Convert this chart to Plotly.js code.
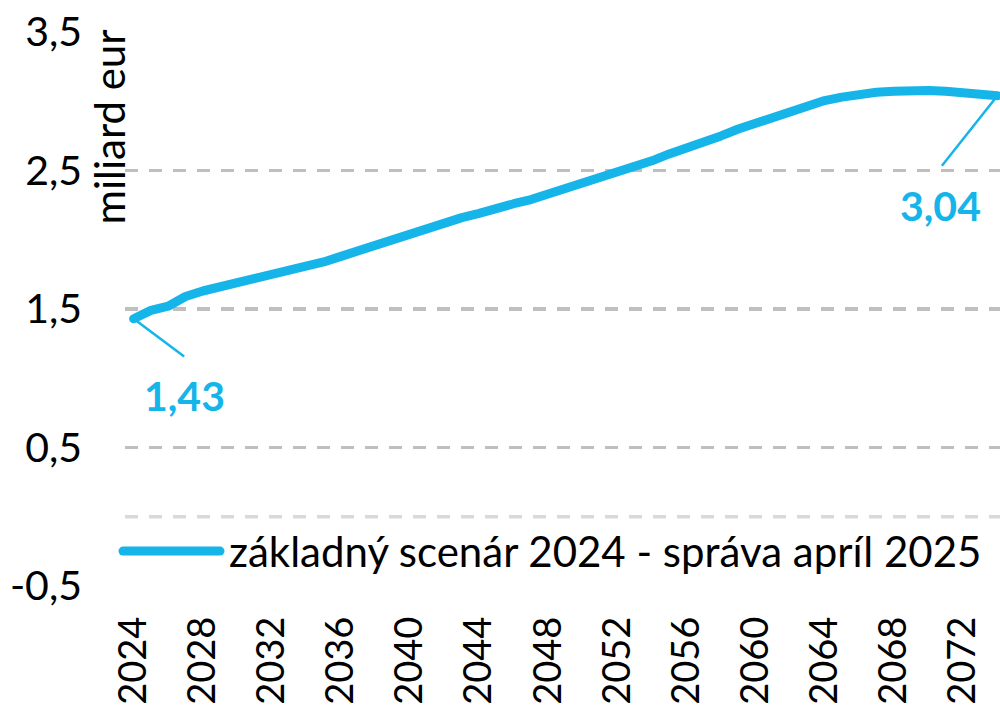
<!DOCTYPE html>
<html>
<head>
<meta charset="utf-8">
<script src="https://cdn.plot.ly/plotly-3.0.1.min.js"></script>
<style>
  html, body { margin: 0; padding: 0; background: #fff; }
  #chart { width: 1000px; height: 710px; }
</style>
</head>
<body>
<div id="chart"></div>
<script>
// ---- data ----
const years = [2024,2025,2026,2027,2028,2029,2030,2031,2032,2033,2034,2035,2036,2037,2038,2039,
  2040,2041,2042,2043,2044,2045,2046,2047,2048,2049,2050,2051,2052,2053,2054,2055,2056,2057,2058,2059,
  2060,2061,2062,2063,2064,2065,2066,2067,2068,2069,2070,2071,2072,2073,2074];
const values = [1.43,1.49,1.52,1.59,1.63,1.66,1.69,1.71,1.74,1.77,1.81,1.84,1.88,1.92,1.96,2.00,
  2.05,2.09,2.12,2.16,2.19,2.23,2.26,2.29,2.33,2.37,2.41,2.44,2.48,2.52,2.57,2.62,2.66,2.71,2.75,2.80,
  2.84,2.88,2.93,2.97,3.005,3.03,3.05,3.065,3.072,3.078,3.078,3.072,3.064,3.052,3.04];
const seriesName = 'základný scenár 2024 - správa apríl 2025';
const xTickVals = [2024,2028,2032,2036,2040,2044,2048,2052,2056,2060,2064,2068,2072];
const yTickVals = [-0.5,0.5,1.5,2.5,3.5];
const yTickText = ['-0,5','0,5','1,5','2,5','3,5'];
const yAxisTitle = 'miliard eur';
const firstLabel = '1,43';
const lastLabel = '3,04';

const COLOR = '#15b4e9';
const FONT = 'Lato, Carlito, "Open Sans", sans-serif';
const GRID = '#bfbfbf';
const DASH = '13px,11px';

const trace = {
  x: years, y: values, type: 'scatter', mode: 'lines',
  line: { color: COLOR, width: 9 }, name: seriesName, showlegend: false,
  hoverinfo: 'skip', cliponaxis: false
};

const n = years.length;
const layout = {
  width: 1000, height: 710,
  margin: { l: 125, r: 0, t: 32, b: 124, pad: 0 },
  paper_bgcolor: '#fff', plot_bgcolor: '#fff',
  font: { family: FONT, size: 40, color: '#000' },
  showlegend: false,
  xaxis: {
    range: [2023.5, 2074.15],
    tickmode: 'array', tickvals: xTickVals, ticktext: xTickVals.map(String),
    tickangle: -90, tickfont: { family: FONT, size: 38, color: '#000' },
    showgrid: false, zeroline: false, showline: false, ticks: '',
    ticklabelstandoff: 22
  },
  yaxis: {
    range: [-0.5, 3.5],
    tickmode: 'array', tickvals: yTickVals, ticktext: yTickText,
    tickfont: { family: FONT, size: 41, color: '#000' },
    showgrid: true, gridcolor: GRID, gridwidth: 3.5, griddash: DASH,
    zeroline: false, showline: false, ticks: '',
    ticklabelstandoff: 42
  },
  shapes: [
    { type: 'line', xref: 'paper', yref: 'y', x0: 0, x1: 1, y0: 0, y1: 0,
      line: { color: '#d9d9d9', width: 3.5, dash: DASH }, layer: 'below' },
    { type: 'line', xref: 'paper', yref: 'paper', x0: -0.0023, x1: 0.1086, y0: 0.063, y1: 0.063,
      line: { color: COLOR, width: 9 }, name: 'legendline' }
  ],
  annotations: [
    { xref: 'paper', yref: 'paper', x: 0.1166, y: 0.063, xanchor: 'left', yanchor: 'middle',
      text: seriesName, showarrow: false, font: { family: FONT, size: 42, color: '#000' } },
    { xref: 'paper', yref: 'paper', x: -0.018, y: 0.828, xanchor: 'center', yanchor: 'middle',
      text: yAxisTitle, textangle: -90, showarrow: false, font: { family: FONT, size: 42, color: '#000' } },
    // leader lines
    { x: years[0], y: values[0], text: ' ', showarrow: true, arrowhead: 0, arrowwidth: 2.5,
      arrowcolor: COLOR, ax: 52, ay: 39, standoff: 0, startstandoff: 0, font: { size: 1 } },
    { x: years[n-1], y: values[n-1], text: ' ', showarrow: true, arrowhead: 0, arrowwidth: 2.5,
      arrowcolor: COLOR, ax: -57, ay: 72, standoff: 0, startstandoff: 0, font: { size: 1 } },
    // data labels
    { x: years[0], y: values[0], text: '<b>' + firstLabel + '</b>', showarrow: false,
      xshift: 51, yshift: -77, font: { family: FONT, size: 41, color: COLOR } },
    { x: years[n-1], y: values[n-1], text: '<b>' + lastLabel + '</b>', showarrow: false,
      xshift: -57, yshift: -110, font: { family: FONT, size: 41, color: COLOR } }
  ]
};

Plotly.newPlot('chart', [trace], layout, { staticPlot: true, displayModeBar: false }).then(() => {
  document.querySelectorAll('.scatterlayer .js-line').forEach(p => {
    p.style.strokeLinecap = 'round'; p.style.strokeLinejoin = 'round';
  });
  document.querySelectorAll('.shapelayer path').forEach(p => {
    if (p.style.stroke && p.style.strokeWidth === '9px') p.style.strokeLinecap = 'round';
  });
});
</script>
</body>
</html>
